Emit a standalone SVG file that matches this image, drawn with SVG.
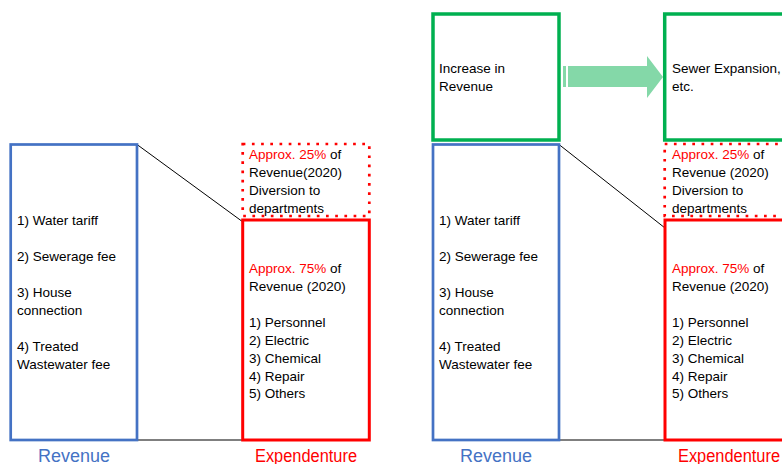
<svg xmlns="http://www.w3.org/2000/svg" width="782" height="464" viewBox="0 0 782 464">
<style>
text{font-family:"Liberation Sans",Arial,sans-serif;font-size:13.5px;fill:#000}
.red{fill:#FF0000}
.blue{stroke:#4472C4;stroke-width:2.7;fill:none}
.rsolid{stroke:#FF0000;stroke-width:3;fill:none}
.rdot{stroke:#FF0000;stroke-width:2.7;fill:none;stroke-dasharray:2.7 6.5}
.green{stroke:#00B050;stroke-width:3.5;fill:none}
.lblb{font-size:18px;fill:#4472C4}
.lblr{font-size:18px;fill:#FF0000}
</style>
<rect width="782" height="464" fill="#fff"/>
<g id="connectors">
<line x1="137" y1="144.5" x2="243" y2="222" stroke="#000" stroke-width="1"/>
<line x1="137" y1="440" x2="243" y2="440" stroke="#7F7F7F" stroke-width="2"/>
<line x1="559" y1="144.5" x2="665" y2="228" stroke="#000" stroke-width="1"/>
<line x1="559" y1="440" x2="665" y2="440" stroke="#7F7F7F" stroke-width="2"/>
<g id="arrow" fill="#84D8A8">
<rect x="563" y="66" width="3" height="21"/>
<polygon points="568,66 647,66 647,56 663,77 647,98 647,87 568,87"/>
</g>
</g>
<g id="left-revenue">
<rect class="blue" x="10.7" y="144.5" width="126.3" height="295.5"/>
<text x="17" y="225">1) Water tariff</text>
<text x="17" y="261">2) Sewerage fee</text>
<text x="17" y="297">3) House</text>
<text x="17" y="315">connection</text>
<text x="17" y="351">4) Treated</text>
<text x="17" y="369">Wastewater fee</text>
<text class="lblb" x="38" y="462" textLength="72" lengthAdjust="spacingAndGlyphs">Revenue</text>
</g>
<g id="left-diversion">
<rect class="rdot" x="242.7" y="144" width="126.6" height="72"/>
<text x="249" y="159"><tspan class="red">Approx. 25%</tspan> of</text>
<text x="249" y="177">Revenue(2020)</text>
<text x="249" y="195">Diversion to</text>
<text x="249" y="213">departments</text>
</g>
<g id="left-expenditure">
<rect class="rsolid" x="242.7" y="220" width="126.6" height="220"/>
<text x="249" y="273"><tspan class="red">Approx. 75%</tspan> of</text>
<text x="249" y="291">Revenue (2020)</text>
<text x="249" y="327">1) Personnel</text>
<text x="249" y="345">2) Electric</text>
<text x="249" y="363">3) Chemical</text>
<text x="249" y="381">4) Repair</text>
<text x="249" y="398">5) Others</text>
<text class="lblr" x="255" y="462" textLength="102" lengthAdjust="spacingAndGlyphs">Expendenture</text>
</g>
<g id="increase">
<rect class="green" x="433" y="14" width="126" height="126"/>
<text x="439" y="73">Increase in</text>
<text x="439" y="91">Revenue</text>
</g>
<g id="sewer">
<rect class="green" x="664.7" y="14" width="130" height="126"/>
<text x="672" y="73">Sewer Expansion,</text>
<text x="672" y="91">etc.</text>
</g>
<g id="right-revenue">
<rect class="blue" x="433" y="144.5" width="126" height="295.5"/>
<text x="439" y="225">1) Water tariff</text>
<text x="439" y="261">2) Sewerage fee</text>
<text x="439" y="297">3) House</text>
<text x="439" y="315">connection</text>
<text x="439" y="351">4) Treated</text>
<text x="439" y="369">Wastewater fee</text>
<text class="lblb" x="460" y="462" textLength="72" lengthAdjust="spacingAndGlyphs">Revenue</text>
</g>
<g id="right-diversion">
<rect class="rdot" x="664.7" y="144" width="130" height="72"/>
<text x="672" y="159"><tspan class="red">Approx. 25%</tspan> of</text>
<text x="672" y="177">Revenue (2020)</text>
<text x="672" y="195">Diversion to</text>
<text x="672" y="213">departments</text>
</g>
<g id="right-expenditure">
<rect class="rsolid" x="665" y="220" width="130" height="220"/>
<text x="672" y="273"><tspan class="red">Approx. 75%</tspan> of</text>
<text x="672" y="291">Revenue (2020)</text>
<text x="672" y="327">1) Personnel</text>
<text x="672" y="345">2) Electric</text>
<text x="672" y="363">3) Chemical</text>
<text x="672" y="381">4) Repair</text>
<text x="672" y="398">5) Others</text>
<text class="lblr" x="678" y="462" textLength="102" lengthAdjust="spacingAndGlyphs">Expendenture</text>
</g>
</svg>
